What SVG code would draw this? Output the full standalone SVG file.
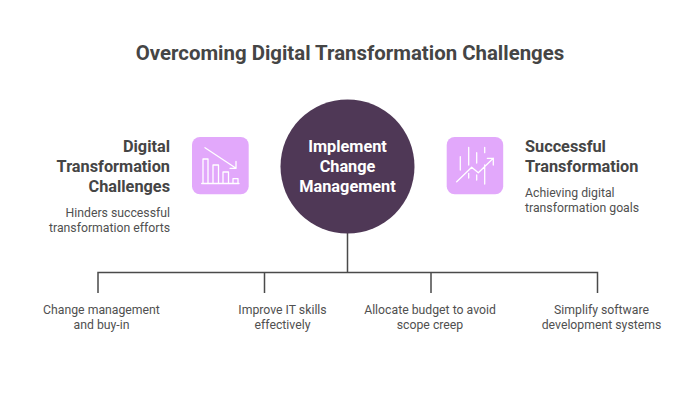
<svg xmlns="http://www.w3.org/2000/svg" width="700" height="400" viewBox="0 0 700 400">
<style>
text{font-family:Roboto,"Liberation Sans",sans-serif;fill:#454545}
.t{font-size:20.4px;font-weight:700;text-anchor:middle}
.h{font-size:16.3px;font-weight:700}
.d{font-size:12.25px;fill:#505050}
.m{text-anchor:middle}
.e{text-anchor:end}
.i{fill:none;stroke:#fff;stroke-width:1.3;stroke-linecap:round;stroke-linejoin:round}
.c{fill:none;stroke:#4a4a4a;stroke-width:1.5}
</style>
<rect width="700" height="400" fill="#fff"/>
<text class="t" x="350" y="60">Overcoming Digital Transformation Challenges</text>
<g id="connectors">
<path class="c" d="M347.500 233V272.500M98 293V272.500H597.500V293M264.500 272.500V293M431 272.500V293"/>
</g>
<g id="center">
<circle cx="347.500" cy="166.500" r="67" fill="#4f3856"/>
<text class="h m" style="fill:#fff" x="347.500" y="152">Implement</text>
<text class="h m" style="fill:#fff" x="347.500" y="172">Change</text>
<text class="h m" style="fill:#fff" x="347.500" y="192">Management</text>
</g>
<g id="challenges">
<rect x="192" y="137" width="56.700" height="57.300" rx="8" fill="#e2a8fb"/>
<path class="i" d="M205 147.700L236 168.300M230 168.300H236V161.500M201.700 183.500H239M203 183.500V159H208V183.500M213 183.500V165H218.500V183.500M223 183.500V172H228.500V183.500M233 183.500V178.700H238V183.500"/>
<text class="h e" x="170" y="152">Digital</text>
<text class="h e" x="170" y="172">Transformation</text>
<text class="h e" x="170" y="192">Challenges</text>
<text class="d e" x="170" y="217">Hinders successful</text>
<text class="d e" x="170" y="232">transformation efforts</text>
</g>
<g id="success">
<rect x="446.700" y="137" width="56.500" height="57.300" rx="8" fill="#e2a8fb"/>
<path class="i" d="M456.700 181.700L471.700 167.300L478.300 172.700L493.300 158.300M487.300 158.300H493.300V165M460.300 156.700V170M468.700 147.300V165M468.700 173.300V178M476.700 152.700V163M476.700 175V180M484.700 147.300V152.700M484.700 165V184"/>
<text class="h" x="525" y="152">Successful</text>
<text class="h" x="525" y="172">Transformation</text>
<text class="d" x="525" y="197">Achieving digital</text>
<text class="d" x="525" y="212">transformation goals</text>
</g>
<g id="item1"><text class="d m" x="101.500" y="314">Change management</text><text class="d m" x="101.500" y="329">and buy-in</text></g>
<g id="item2"><text class="d m" x="282.500" y="314">Improve IT skills</text><text class="d m" x="282.500" y="329">effectively</text></g>
<g id="item3"><text class="d m" x="430" y="314">Allocate budget to avoid</text><text class="d m" x="430" y="329">scope creep</text></g>
<g id="item4"><text class="d m" x="601.500" y="314">Simplify software</text><text class="d m" x="601.500" y="329">development systems</text></g>
</svg>
